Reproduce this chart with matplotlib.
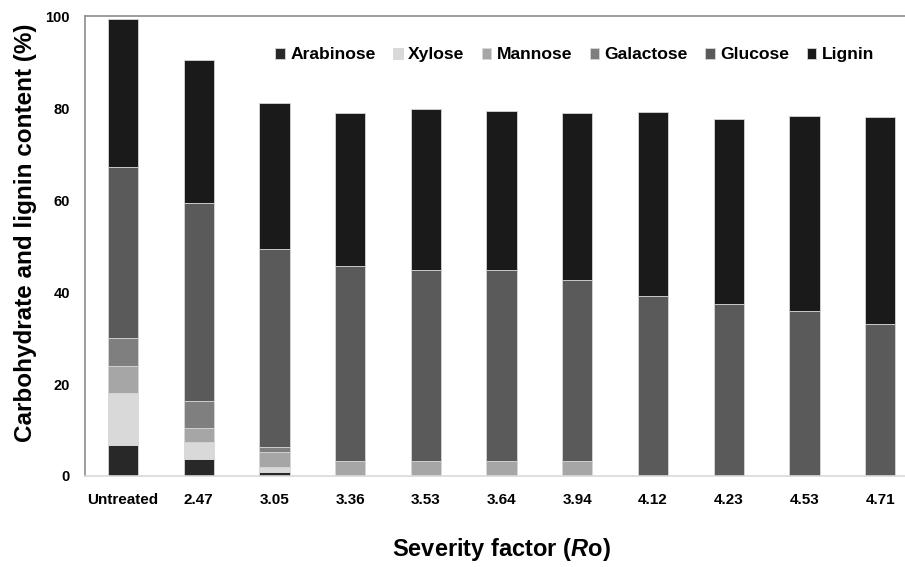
import matplotlib
matplotlib.use('Agg')
import matplotlib.pyplot as plt
import numpy as np

plt.rcParams['font.family'] = ['Liberation Sans', 'DejaVu Sans']
plt.rcParams['font.weight'] = 'bold'
plt.rcParams['mathtext.fontset'] = 'custom'
plt.rcParams['mathtext.bfit'] = 'Liberation Sans:italic:bold'
plt.rcParams['mathtext.it'] = 'Liberation Sans:italic:bold'

labels = ['Untreated', '2.47', '3.05', '3.36', '3.53', '3.64', '3.94', '4.12', '4.23', '4.53', '4.71']

arabinose = [6.7, 3.6, 0.9, 0, 0, 0, 0, 0, 0, 0, 0]
xylose = [11.4, 3.8, 1.0, 0, 0, 0, 0, 0, 0, 0, 0]
mannose = [5.9, 3.1, 3.3, 3.3, 3.3, 3.2, 3.2, 0, 0, 0, 0]
galactose = [6.0, 5.8, 1.2, 0, 0, 0, 0, 0, 0, 0, 0]
glucose = [37.3, 43.1, 43.1, 42.3, 41.6, 41.7, 39.5, 39.1, 37.4, 36.0, 33.0]
lignin = [32.2, 31.2, 31.6, 33.4, 34.9, 34.5, 36.3, 40.1, 40.2, 42.3, 45.1]

series = [('Arabinose', arabinose, '#282828'),
          ('Xylose', xylose, '#d9d9d9'),
          ('Mannose', mannose, '#a6a6a6'),
          ('Galactose', galactose, '#7f7f7f'),
          ('Glucose', glucose, '#5a5a5a'),
          ('Lignin', lignin, '#1a1a1a')]

fig = plt.figure(figsize=(9.05, 5.67), dpi=100)
ax = fig.add_axes([0.094, 0.1605, 0.9204, 0.8104])

x = np.arange(len(labels))
bottom = np.zeros(len(labels))
for name, vals, col in series:
    ax.bar(x, vals, 0.4, bottom=bottom, color=col, edgecolor='#d6d6d6',
           linewidth=0.6, label=name)
    bottom += np.array(vals)

ax.set_xlim(-0.5, 10.5)
ax.set_ylim(0, 100)
ax.set_yticks([0, 20, 40, 60, 80, 100])
ax.set_xticks(x)
ax.set_xticklabels(labels, fontsize=11, fontweight='bold')
ax.tick_params(axis='y', length=0, pad=11, labelsize=10.5)
ax.tick_params(axis='x', length=0, pad=12)

ax.spines['right'].set_visible(False)
ax.spines['top'].set_color('#8c8c8c')
ax.spines['left'].set_color('#8c8c8c')
ax.spines['bottom'].set_color('#d9d9d9')
for s in ax.spines.values():
    s.set_linewidth(1.2)

ax.set_ylabel('Carbohydrate and lignin content (%)', fontsize=17.5, fontweight='bold')
ax.yaxis.set_label_coords(-0.058, 0.529)
ax.set_xlabel('Severity factor ($\\mathit{R}$o)', fontsize=17, fontweight='bold', labelpad=21)

fig.legend(loc='center', bbox_to_anchor=(0.635, 0.903), ncol=6, frameon=False,
           fontsize=12.6, handlelength=0.55, handleheight=0.55, handletextpad=0.3,
           columnspacing=1.0, borderaxespad=0)

fig.savefig('out.png', dpi=100)
